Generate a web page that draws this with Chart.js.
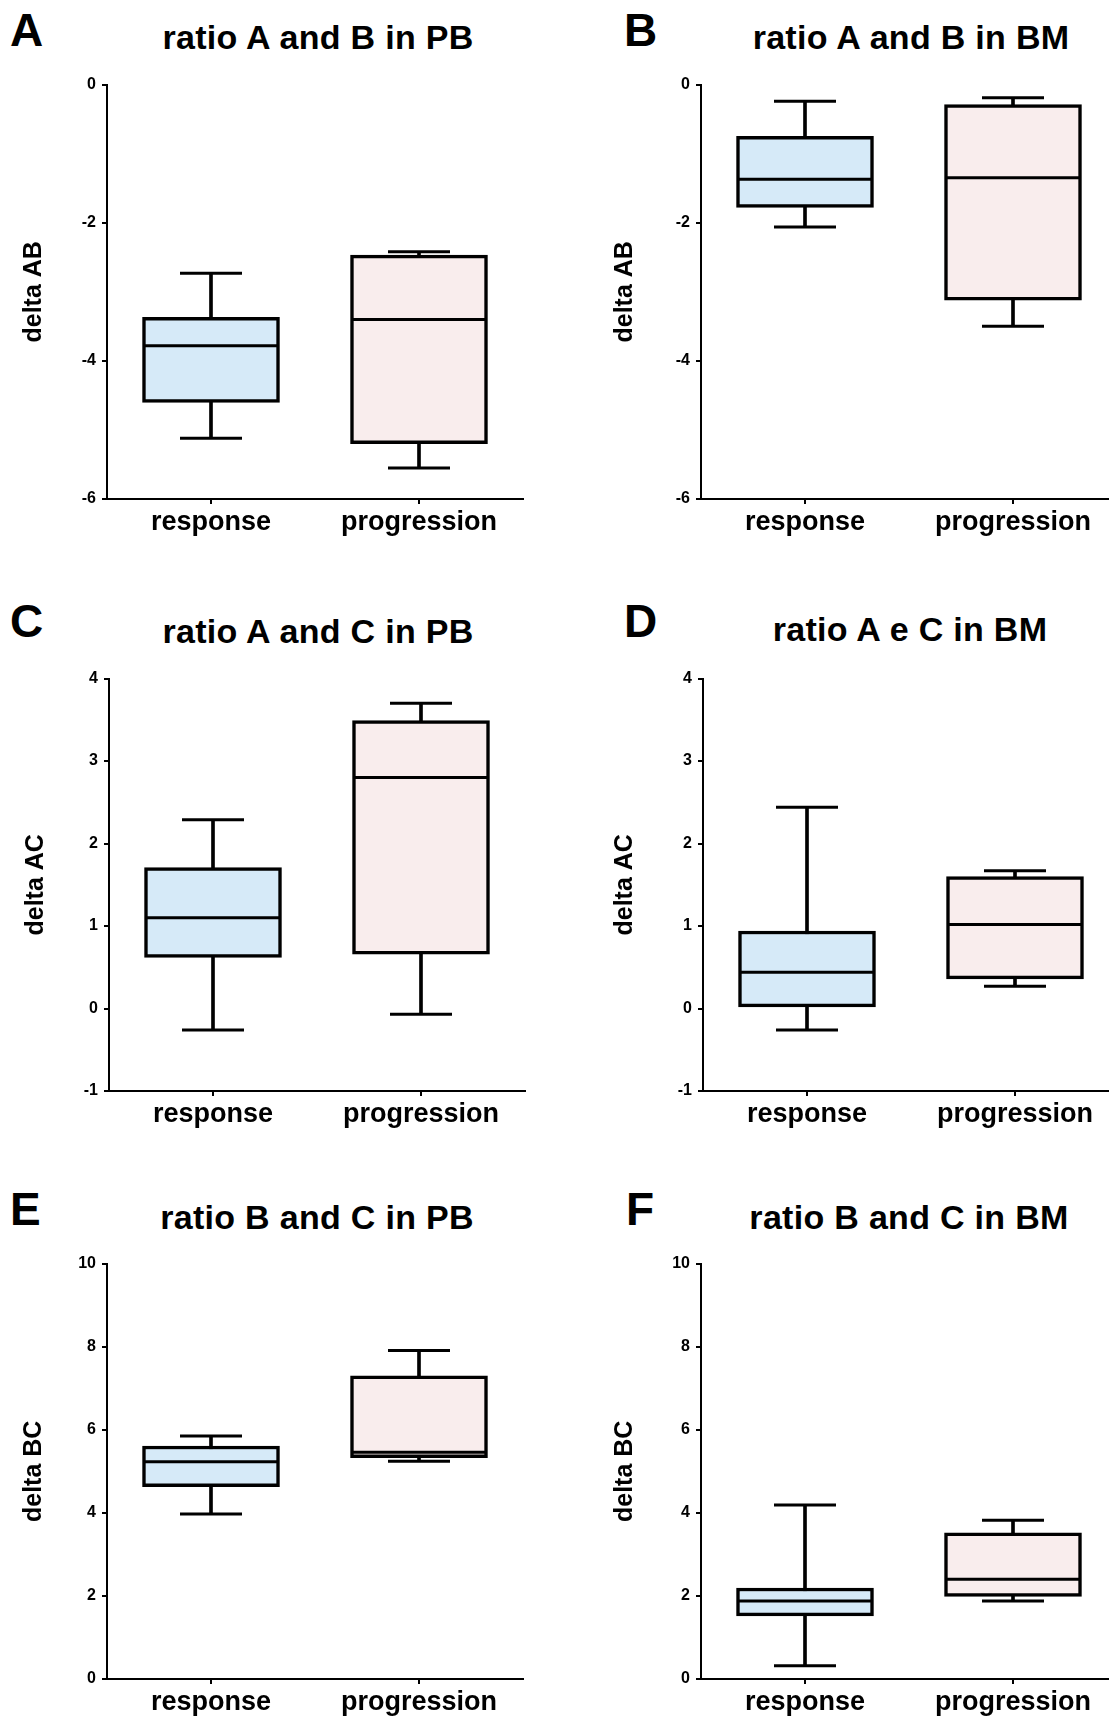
<!DOCTYPE html>
<html>
<head>
<meta charset="utf-8">
<title>delta ratios</title>
<script src="https://cdn.jsdelivr.net/npm/chart.js@4.4.1/dist/chart.umd.min.js"></script>
<style>
  html, body { margin: 0; padding: 0; background: #fff; }
  body { width: 1109px; height: 1719px; overflow: hidden; position: relative;
         font-family: "Liberation Sans", Arial, sans-serif; color: #000; }
  .letra { position: absolute; font-size: 46px; font-weight: bold; line-height: 46px; }
  .titulo { position: absolute; font-size: 34px; font-weight: bold; line-height: 34px;
            letter-spacing: 0.3px; white-space: nowrap; transform: translateX(-50%); }
  canvas { position: absolute; }
</style>
</head>
<body>

<div class="letra" style="left:10px;top:7px">A</div>
<div class="letra" style="left:624px;top:7px">B</div>
<div class="letra" style="left:10px;top:598px">C</div>
<div class="letra" style="left:624px;top:598px">D</div>
<div class="letra" style="left:10px;top:1186px">E</div>
<div class="letra" style="left:626px;top:1186px">F</div>

<div class="titulo" style="left:318px;top:20px">ratio A and B in PB</div>
<div class="titulo" style="left:911px;top:20px">ratio A and B in BM</div>
<div class="titulo" style="left:318px;top:614px">ratio A and C in PB</div>
<div class="titulo" style="left:910px;top:612px">ratio A e C in BM</div>
<div class="titulo" style="left:317px;top:1200px">ratio B and C in PB</div>
<div class="titulo" style="left:909px;top:1200px">ratio B and C in BM</div>

<canvas id="chartA"></canvas>
<canvas id="chartB"></canvas>
<canvas id="chartC"></canvas>
<canvas id="chartD"></canvas>
<canvas id="chartE"></canvas>
<canvas id="chartF"></canvas>

<script>
// categorías del eje X
const categories = ['response', 'progression'];

// valores: [mínimo, q1, mediana, q3, máximo]
const abPB_response    = [-5.12, -4.60, -3.78, -3.37, -2.73];
const abPB_progression = [-5.55, -5.20, -3.40, -2.47, -2.42];
const abBM_response    = [-2.06, -1.78, -1.37, -0.75, -0.24];
const abBM_progression = [-3.50, -3.12, -1.35, -0.29, -0.19];
const acPB_response    = [-0.26, 0.62, 1.10, 1.71, 2.29];
const acPB_progression = [-0.07, 0.66, 2.80, 3.49, 3.70];
const acBM_response    = [-0.26, 0.02, 0.44, 0.94, 2.44];
const acBM_progression = [0.27, 0.36, 1.02, 1.60, 1.67];
const bcPB_response    = [3.97, 4.63, 5.23, 5.61, 5.85];
const bcPB_progression = [5.24, 5.33, 5.46, 7.30, 7.91];
const bcBM_response    = [0.32, 1.52, 1.88, 2.19, 4.19];
const bcBM_progression = [1.88, 1.99, 2.40, 3.52, 3.82];

// escalas del eje Y: [min, max, paso]
const yTicksAB = [-6, 0, 2];
const yTicksAC = [-1, 4, 1];
const yTicksBC = [0, 10, 2];

// títulos de los ejes Y
const yTitles = ['delta AB', 'delta AB', 'delta AC', 'delta AC', 'delta BC', 'delta BC'];

// colores de relleno de las cajas
const boxFill = ['#d6eaf8', '#f9eded'];

Chart.defaults.font.family = '"Liberation Sans", Arial, sans-serif';
Chart.defaults.color = '#000';

// Dibuja un panel de cajas y bigotes
function dibujarPanel(id, response, progression, yTicks, yTitle, pos) {
    const canvas = document.getElementById(id);
    canvas.width = pos.w;
    canvas.height = pos.h;
    canvas.style.left = pos.x + 'px';
    canvas.style.top = pos.y + 'px';

    const grupos = [response, progression];
    const linea = { type: 'line', showLine: false, pointStyle: 'line',
                    pointBorderColor: '#000', pointBorderWidth: 3, order: 1 };

    return new Chart(canvas.getContext('2d'), {
        type: 'bar',
        data: {
            labels: categories,
            datasets: [
                { // bigote completo, queda detrás de la caja
                    label: 'whisker', data: grupos.map(g => [g[0], g[4]]),
                    backgroundColor: '#000', barThickness: 3, grouped: false, order: 3
                },
                { // caja q1-q3
                    label: 'box', data: grupos.map(g => [g[1], g[3]]),
                    backgroundColor: boxFill, borderColor: '#000', borderWidth: 3.5,
                    borderSkipped: false, barThickness: 137, grouped: false, order: 2
                },
                Object.assign({ label: 'median', data: grupos.map(g => g[2]), pointRadius: 67 }, linea),
                Object.assign({ label: 'max', data: grupos.map(g => g[4]), pointRadius: 31 }, linea),
                Object.assign({ label: 'min', data: grupos.map(g => g[0]), pointRadius: 31 }, linea)
            ]
        },
        options: {
            responsive: false,
            animation: false,
            events: [],
            devicePixelRatio: 1,
            layout: { autoPadding: false, padding: { top: 12, right: 2, left: 0, bottom: 0 } },
            plugins: { legend: { display: false }, tooltip: { enabled: false } },
            scales: {
                x: {
                    offset: true,
                    ticks: { font: { size: 27, weight: 'bold' }, padding: 2 },
                    grid: { offset: false, drawOnChartArea: false, drawTicks: true,
                            tickLength: 5, color: '#000', lineWidth: 2 },
                    border: { color: '#000', width: 2 },
                    afterFit: s => { s.height = 50; }
                },
                y: {
                    min: yTicks[0], max: yTicks[1],
                    ticks: { stepSize: yTicks[2], font: { size: 16, weight: 'bold' }, padding: 6 },
                    grid: { drawOnChartArea: false, drawTicks: true,
                            tickLength: 5, color: '#000', lineWidth: 2 },
                    border: { color: '#000', width: 2 },
                    title: { display: true, text: yTitle, font: { size: 25, weight: 'bold' },
                             padding: { top: pos.tp, bottom: 0 } },
                    afterFit: s => { s.width = 107; }
                }
            }
        }
    });
}

dibujarPanel('chartA', abPB_response, abPB_progression, yTicksAB, yTitles[0], { x: 0,   y: 69,   w: 525, h: 480, tp: 19 });
dibujarPanel('chartB', abBM_response, abBM_progression, yTicksAB, yTitles[1], { x: 594, y: 69,   w: 525, h: 480, tp: 16 });
dibujarPanel('chartC', acPB_response, acPB_progression, yTicksAC, yTitles[2], { x: 2,   y: 663,  w: 525, h: 478, tp: 19 });
dibujarPanel('chartD', acBM_response, acBM_progression, yTicksAC, yTitles[3], { x: 596, y: 663,  w: 525, h: 478, tp: 14 });
dibujarPanel('chartE', bcPB_response, bcPB_progression, yTicksBC, yTitles[4], { x: 0,   y: 1248, w: 525, h: 481, tp: 19 });
dibujarPanel('chartF', bcBM_response, bcBM_progression, yTicksBC, yTitles[5], { x: 594, y: 1248, w: 525, h: 481, tp: 16 });
</script>
</body>
</html>
